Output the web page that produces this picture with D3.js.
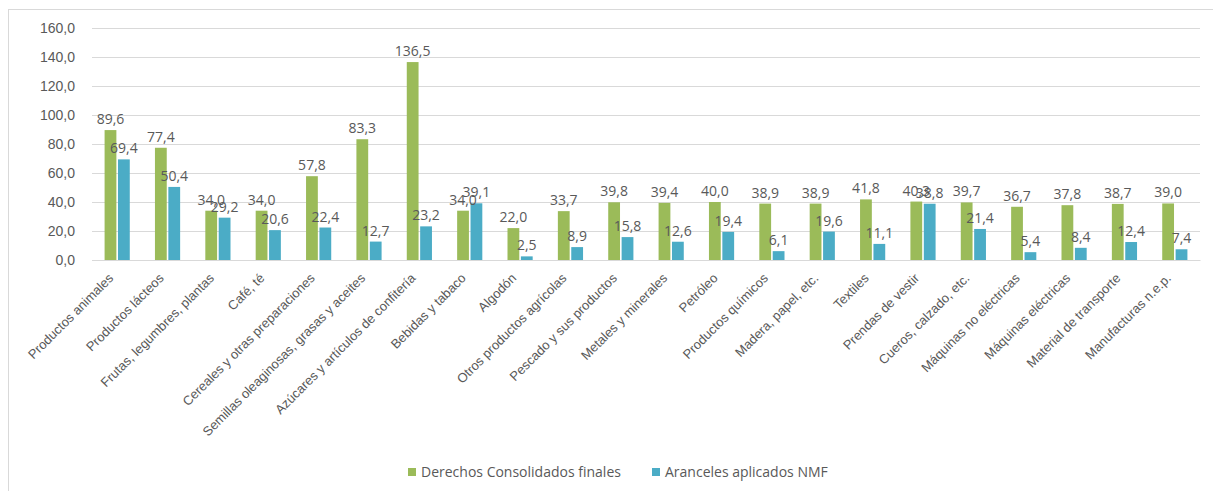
<!DOCTYPE html>
<html>
<head>
<meta charset="utf-8">
<script src="https://cdn.jsdelivr.net/npm/d3@7"></script>
<style>
  body { margin: 0; background: #fff; }
  svg { display: block; font-family: 'Open Sans', sans-serif; }
</style>
</head>
<body>
<div id="chart"></div>
<script>
// categories and series
const categories = [
  'Productos animales', 'Productos lácteos', 'Frutas, legumbres, plantas', 'Café, té',
  'Cereales y otras preparaciones', 'Semillas oleaginosas, grasas y aceites',
  'Azúcares y artículos de confitería', 'Bebidas y tabaco', 'Algodón',
  'Otros productos agrícolas', 'Pescado y sus productos', 'Metales y minerales',
  'Petróleo', 'Productos químicos', 'Madera, papel, etc.', 'Textiles',
  'Prendas de vestir', 'Cueros, calzado, etc.', 'Máquinas no eléctricas',
  'Máquinas eléctricas', 'Material de transporte', 'Manufacturas n.e.p.'
];
const consolidados = [89.6, 77.4, 34.0, 34.0, 57.8, 83.3, 136.5, 34.0, 22.0, 33.7, 39.8,
  39.4, 40.0, 38.9, 38.9, 41.8, 40.3, 39.7, 36.7, 37.8, 38.7, 39.0];
const aplicados = [69.4, 50.4, 29.2, 20.6, 22.4, 12.7, 23.2, 39.1, 2.5, 8.9, 15.8,
  12.6, 19.4, 6.1, 19.6, 11.1, 38.8, 21.4, 5.4, 8.4, 12.4, 7.4];
const yTicks = [0, 20, 40, 60, 80, 100, 120, 140, 160];
const seriesNames = ['Derechos Consolidados finales', 'Aranceles aplicados NMF'];
const seriesColors = ['#9bbb59', '#4bacc6'];

const width = 1213, height = 491;
const plotLeft = 92, plotRight = 1200, plotTop = 28, plotBottom = 260;
const textColor = '#595959';

const locale = d3.formatLocale({ decimal: ',', thousands: '.', grouping: [3], currency: ['', ''] });
const fmt = locale.format('.1f');

const svg = d3.select('#chart').append('svg')
  .attr('width', width)
  .attr('height', height);

// chart frame (cropped at right/bottom in the reference)
svg.append('rect')
  .attr('x', 8.5).attr('y', 9.5)
  .attr('width', 1240).attr('height', 520)
  .attr('fill', 'none')
  .attr('stroke', '#d9d9d9');

const x0 = d3.scaleBand().domain(categories).range([plotLeft, plotRight])
  .paddingInner(0.5).paddingOuter(0.25);
const x1 = d3.scaleBand().domain([0, 1]).range([0, x0.bandwidth()]).paddingInner(0.12);
const y = d3.scaleLinear().domain([0, 160]).range([plotBottom, plotTop]);

// gridlines
const yGrid = d3.axisRight(y).tickValues(yTicks).tickSize(plotRight - plotLeft).tickFormat('');
svg.append('g')
  .attr('transform', `translate(${plotLeft},0)`)
  .call(yGrid)
  .call(g => g.select('.domain').remove())
  .call(g => g.selectAll('line').attr('stroke', '#d9d9d9'));

// y axis labels
const yAxis = d3.axisLeft(y).tickValues(yTicks).tickSize(0).tickPadding(0).tickFormat(fmt);
svg.append('g')
  .attr('transform', 'translate(75,0)')
  .call(yAxis)
  .call(g => g.select('.domain').remove())
  .call(g => g.selectAll('text').attr('fill', textColor).style('font-size', '14px'));

// bars
const rows = categories.map((c, i) => ({ cat: c, vals: [consolidados[i], aplicados[i]] }));
const groups = svg.append('g').selectAll('g').data(rows).enter().append('g')
  .attr('transform', d => `translate(${x0(d.cat)},0)`);

groups.selectAll('rect').data(d => d.vals).enter().append('rect')
  .attr('x', (d, i) => x1(i))
  .attr('width', x1.bandwidth())
  .attr('y', d => y(d))
  .attr('height', d => y(0) - y(d))
  .attr('fill', (d, i) => seriesColors[i]);

groups.selectAll('text').data(d => d.vals).enter().append('text')
  .attr('x', (d, i) => x1(i) + x1.bandwidth() / 2)
  .attr('y', d => y(d) - 6)
  .attr('text-anchor', 'middle')
  .attr('fill', textColor)
  .style('font-size', '14px')
  .text(d => fmt(d));

// x axis labels, rotated
const xAxis = d3.axisBottom(x0).tickSize(0).tickPadding(0);
svg.append('g')
  .attr('transform', `translate(0,${plotBottom})`)
  .call(xAxis)
  .call(g => g.select('.domain').attr('stroke', '#d9d9d9'))
  .call(g => g.selectAll('text')
    .attr('fill', textColor)
    .style('font-size', '13px')
    .attr('text-anchor', 'end')
    .attr('dy', null)
    .attr('transform', 'translate(-3,19) rotate(-45)'));

// legend
const legend = svg.append('g').attr('transform', 'translate(408,472)');
const legendX = [0, 244];
seriesNames.forEach((name, i) => {
  const item = legend.append('g').attr('transform', `translate(${legendX[i]},0)`);
  item.append('rect').attr('x', 0).attr('y', -4).attr('width', 8).attr('height', 8)
    .attr('fill', seriesColors[i]);
  item.append('text').attr('x', 13).attr('y', 0).attr('dy', '0.35em')
    .attr('fill', textColor).style('font-size', '14px').text(name);
});
</script>
</body>
</html>
